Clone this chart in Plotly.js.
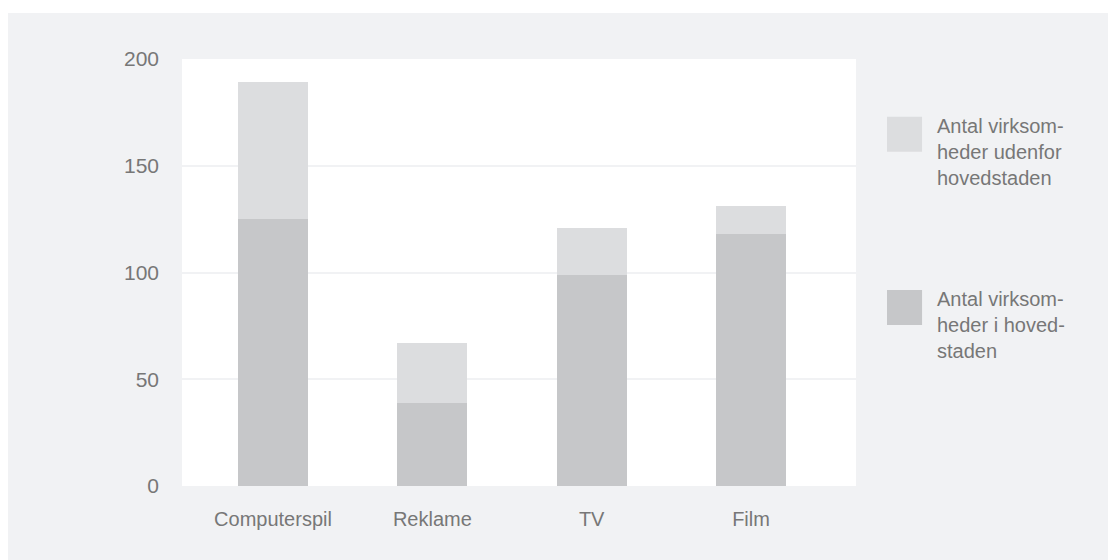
<!DOCTYPE html>
<html>
<head>
<meta charset="utf-8">
<script src="https://cdn.plot.ly/plotly-3.0.1.min.js"></script>
<style>
html,body{margin:0;padding:0;background:#ffffff;}
#chart{position:absolute;left:8px;top:13px;width:1100px;height:547px;}
</style>
</head>
<body>
<div id="chart"></div>
<script>
var categories = ["Computerspil", "Reklame", "TV", "Film"];
var iHovedstaden = [125, 39, 99, 118];
var udenforHovedstaden = [64, 28, 22, 13];
var seriesNames = ["Antal virksomheder i hovedstaden", "Antal virksomheder udenfor hovedstaden"];
var legendLabels = ["Antal virksom-<br>heder udenfor<br>hovedstaden", "Antal virksom-<br>heder i hoved-<br>staden"];
var yTicks = [0, 50, 100, 150, 200];

var colBottom = "#c6c7c9";
var colTop = "#dcdddf";
var textCol = "#777777";
var font = "Liberation Sans, Arial, Helvetica, sans-serif";

var traces = [
  {type: "bar", x: categories, y: iHovedstaden, name: seriesNames[0],
   marker: {color: colBottom}, width: 0.4393, hoverinfo: "x+y+name"},
  {type: "bar", x: categories, y: udenforHovedstaden, name: seriesNames[1],
   marker: {color: colTop}, width: 0.4393, hoverinfo: "x+y+name"}
];

var shapes = [
  {type: "rect", xref: "paper", yref: "paper", x0: 1.046, x1: 1.098, y0: 0.783, y1: 0.865,
   fillcolor: colTop, line: {width: 0}},
  {type: "rect", xref: "paper", yref: "paper", x0: 1.046, x1: 1.098, y0: 0.377, y1: 0.459,
   fillcolor: colBottom, line: {width: 0}}
];

var annotations = [
  {xref: "paper", yref: "paper", x: 1.117, y: 0.874, xanchor: "left", yanchor: "top",
   align: "left", showarrow: false, text: legendLabels[0],
   font: {family: font, size: 20, color: textCol}},
  {xref: "paper", yref: "paper", x: 1.117, y: 0.468, xanchor: "left", yanchor: "top",
   align: "left", showarrow: false, text: legendLabels[1],
   font: {family: font, size: 20, color: textCol}}
];

var layout = {
  width: 1100, height: 547,
  barmode: "stack",
  paper_bgcolor: "#f1f2f4",
  plot_bgcolor: "#ffffff",
  margin: {l: 174, r: 252, t: 46, b: 74, pad: 0},
  showlegend: false,
  font: {family: font, size: 20, color: textCol},
  xaxis: {
    type: "category", range: [-0.5711, 3.659],
    showgrid: false, zeroline: false, showline: false,
    ticks: "", ticklabelstandoff: 19,
    tickfont: {family: font, size: 20, color: textCol}
  },
  yaxis: {
    range: [0, 200], tickvals: yTicks, ticktext: yTicks.map(String),
    showgrid: true, gridcolor: "#f1f2f4", gridwidth: 2,
    zeroline: false, showline: false, ticks: "",
    ticklabelstandoff: 22,
    tickfont: {family: font, size: 21, color: textCol}
  },
  shapes: shapes,
  annotations: annotations
};

Plotly.newPlot("chart", traces, layout, {displayModeBar: false, staticPlot: true});
</script>
</body>
</html>
